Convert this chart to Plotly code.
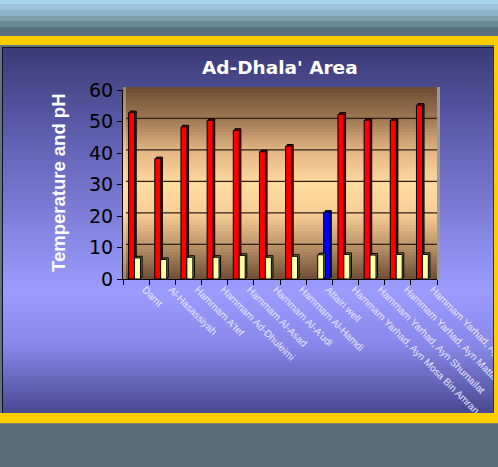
import plotly.graph_objects as go

# ---- data -------------------------------------------------------------
sites = [
    "Damt",
    "Al-Hasassiyah",
    "Hammam A'tef",
    "Hammam Ad-Dhuleimi",
    "Hammam Al-Asad",
    "Hammam Al-A'udi",
    "Hammam Al-Hamdi",
    "Attairi well",
    "Hammam Yarhad, Ayn Mosa Bin Amran",
    "Hammam Yarhad, Ayn Shumailat",
    "Hammam Yarhad, Ayn Mattash",
    "Hammam Yarhad, Ayn",
]
temperature = [52.8, 38.2, 48.3, 50.4, 47.2, 40.4, 42.2, 21.2, 52.3, 50.4, 50.4, 55.2]
ph = [6.7, 6.2, 6.9, 6.9, 7.5, 6.9, 7.2, 7.7, 7.8, 7.6, 7.8, 7.8]
cold_sites = ["Attairi well"]          # non-thermal well, drawn in blue
y_ticks = [0, 10, 20, 30, 40, 50, 60]

# ---- geometry (pixels) ------------------------------------------------
W, H = 498, 467
L, R, T, B = 123, 61, 90, 188
PW, PH = W - L - R, H - T - B
FONT = "Arial, Liberation Sans, sans-serif"
WIDE = "DejaVu Sans, sans-serif"
DEPTH = 0.5      # 3-D depth of the bars, data units
SHIFT = 0.06     # 3-D depth of the bars, category units


def fx(px):
    return (px - L) / PW


def fy(py):
    return (H - B - py) / PH


def hex_rgb(h):
    h = h.lstrip("#")
    return tuple(int(h[i:i + 2], 16) for i in (0, 2, 4))


def interp(stops, p):
    for (p0, c0), (p1, c1) in zip(stops, stops[1:]):
        if p0 <= p <= p1:
            t = (p - p0) / (p1 - p0) if p1 > p0 else 0
            a, b = hex_rgb(c0), hex_rgb(c1)
            return "rgb(%d,%d,%d)" % tuple(round(a[i] + (b[i] - a[i]) * t) for i in range(3))
    return stops[-1][1] if p > stops[-1][0] else stops[0][1]


def rect(x0, y0, x1, y1, color, layer="below"):
    return dict(type="rect", xref="paper", yref="paper",
                x0=fx(x0), x1=fx(x1), y0=fy(y1), y1=fy(y0),
                fillcolor=color, layer=layer, line=dict(width=0))


def gradient(x0, y0, x1, y1, stops, step=3):
    out = []
    y = y0
    while y < y1:
        y2 = min(y + step, y1)
        out.append(rect(x0, y, x1, y2 + 0.6, interp(stops, (y + y2) / 2)))
        y = y2
    return out


shapes = []

# header stripes
header = [(0, 4, "#a8d6ec"), (4, 10, "#9cc4d8"), (10, 16, "#8fb3c6"),
          (16, 21, "#7d9dad"), (21, 27, "#6b8895"), (27, 36, "#587080")]
for a, b, c in header:
    shapes.append(rect(0, a, W, b, c))

# yellow frame, panel border and panel gradient
shapes.append(rect(0, 36, W, 423, "#ffcc00"))
shapes.append(rect(0, 45, 494, 413, "#5e7482"))
shapes.append(rect(2, 47, 494, 413, "#101020"))
panel_stops = [(48, "#3a3a76"), (150, "#6464b8"), (290, "#9c9cff"),
               (345, "#8888ea"), (413, "#484890")]
shapes += gradient(3, 48, 493, 413, panel_stops, step=4)

# back wall of the plot area
wall_stops = [(87, "#6a4c34"), (120, "#a07a56"), (150, "#e2b482"), (185, "#ffdca0"),
              (215, "#f6cc94"), (245, "#bc9469"), (279, "#6c4e36")]
shapes += gradient(123, 87, 437, 279, wall_stops, step=3)
shapes.append(rect(437, 87, 440, 279, "#9a9a9a"))
shapes.append(rect(123, 87, 126, 279, "rgba(255,230,180,0.35)"))

# wall grid lines
for v in y_ticks[1:-1]:
    shapes.append(dict(type="line", xref="paper", yref="y", x0=fx(126), x1=fx(437),
                       y0=v + 1.0, y1=v + 1.0, layer="below",
                       line=dict(color="#2e2216", width=1.2)))

# frame pieces drawn over overflowing category labels
shapes.append(rect(494, 36, W, 423, "#ffcc00", layer="above"))
shapes.append(rect(0, 413, W, 423.5, "#ffcc00", layer="above"))
shapes.append(rect(0, 423.5, W, H, "#586c78", layer="above"))
shapes.append(rect(493, 47, 494, 413, "#303050", layer="above"))

# ---- bars ---------------------------------------------------------------
is_cold = [s in cold_sites for s in sites]
t_front = ["#0000ff" if c else "#ff0000" for c in is_cold]
t_side = ["#000080" if c else "#800000" for c in is_cold]
t_offset = [0.17 if c else -0.285 for c in is_cold]
p_offset = -0.06
bw = 0.23

fig = go.Figure()
fig.add_trace(go.Bar(x=sites, y=temperature, base=DEPTH,
                     offset=[o + SHIFT for o in t_offset], width=bw,
                     marker=dict(color=t_side, line=dict(color="black", width=1)),
                     hoverinfo="skip", showlegend=False))
fig.add_trace(go.Bar(x=sites, y=temperature, offset=t_offset, width=bw,
                     marker=dict(color=t_front, line=dict(color="black", width=1)),
                     name="Temperature", showlegend=False))
fig.add_trace(go.Bar(x=sites, y=ph, base=DEPTH, offset=p_offset + SHIFT, width=bw,
                     marker=dict(color="#80804c", line=dict(color="black", width=1)),
                     hoverinfo="skip", showlegend=False))
fig.add_trace(go.Bar(x=sites, y=ph, offset=p_offset, width=bw,
                     marker=dict(color="#ffffa8", line=dict(color="black", width=1)),
                     name="pH", showlegend=False))

fig.update_layout(
    width=W, height=H,
    margin=dict(l=L, r=R, t=T, b=B, pad=0, autoexpand=False),
    paper_bgcolor="#586c78",
    plot_bgcolor="rgba(0,0,0,0)",
    barmode="overlay",
    shapes=shapes,
    font=dict(family=FONT),
    annotations=[
        dict(text="<b>Ad-Dhala' Area</b>", xref="paper", yref="paper",
             x=fx(280), y=fy(67), xanchor="center", yanchor="middle", showarrow=False,
             font=dict(family=WIDE, size=18.5, color="white")),
        dict(text="<b>Temperature and pH</b>", xref="paper", yref="paper",
             x=fx(58), y=fy(183), xanchor="center", yanchor="middle",
             textangle=-90, showarrow=False,
             font=dict(family=FONT, size=18.5, color="white")),
    ],
)
fig.update_xaxes(
    type="category", range=[-0.5, len(sites) - 0.5], automargin=False,
    showline=True, linecolor="black", linewidth=1,
    ticks="outside", tickson="boundaries", ticklen=5, tickcolor="black",
    tickangle=45, ticklabelshift=9,
    tickfont=dict(family=FONT, size=10, color="#e6e6ff"),
    showgrid=False, fixedrange=True,
)
fig.update_yaxes(
    range=[0, 60], tickvals=y_ticks, automargin=False,
    showline=True, linecolor="black", linewidth=1,
    ticks="outside", ticklen=5, tickcolor="black",
    tickfont=dict(family=WIDE, size=19, color="black"),
    showgrid=False, zeroline=False, fixedrange=True,
)

fig.write_html("out.html")
